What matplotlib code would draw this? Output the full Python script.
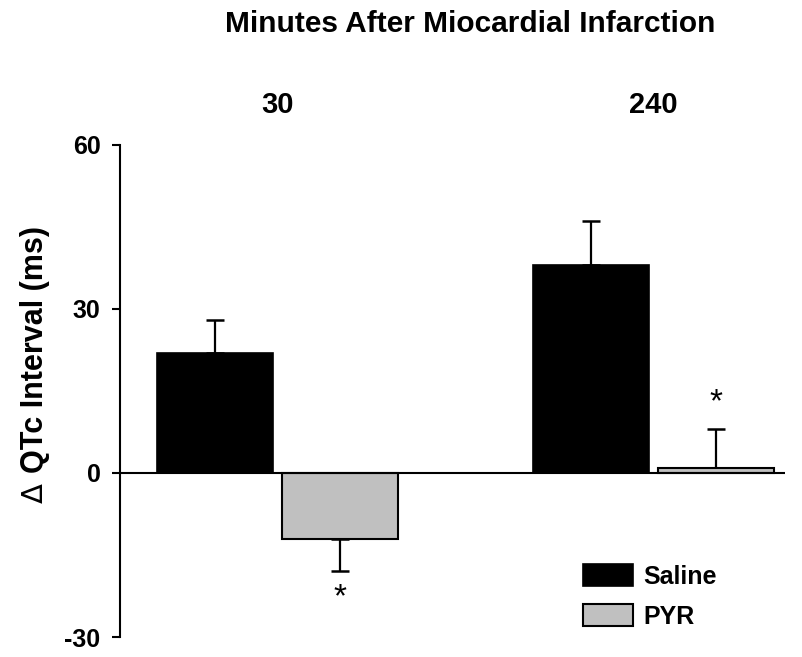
import numpy as np
import matplotlib
matplotlib.use('Agg')
import matplotlib.pyplot as plt
from matplotlib.patches import Patch
import matplotlib.transforms as mtransforms

# Cambio del QTc (ms) a los 30 y 240 minutos tras el infarto
tiempos = ['30', '240']
saline_media = [22, 38]
saline_ee = [6, 8]
pyr_media = [-12, 1]
pyr_ee = [6, 7]

plt.rcParams['font.family'] = ['Liberation Sans', 'DejaVu Sans']
plt.rcParams['font.weight'] = 'bold'
plt.rcParams['axes.unicode_minus'] = False

fig = plt.figure(figsize=(8.02, 6.57), dpi=100)
ax = fig.add_axes([0.1496, 0.0304, 0.8294, 0.749])

x = np.arange(len(tiempos))
ancho = 0.309
desp = 0.167

saline_media = np.array(saline_media)
pyr_media = np.array(pyr_media)

ax.bar(x - desp, saline_media, ancho, color='black', edgecolor='black', linewidth=1.2, zorder=3)
ax.bar(x + desp, pyr_media, ancho, color='#c0c0c0', edgecolor='black', linewidth=1.5, zorder=3)

# Barras de error solo hacia afuera de cada barra
def err_un_lado(media, ee):
    ee = np.array(ee)
    bajo = np.where(media < 0, ee, 0)
    alto = np.where(media < 0, 0, ee)
    return [bajo, alto]

ax.errorbar(x - desp, saline_media, yerr=err_un_lado(saline_media, saline_ee),
            fmt='none', ecolor='black', elinewidth=1.6, capsize=6.5, capthick=1.8, zorder=2)
ax.errorbar(x + desp, pyr_media, yerr=err_un_lado(pyr_media, pyr_ee),
            fmt='none', ecolor='black', elinewidth=1.6, capsize=6.5, capthick=1.8, zorder=2)

# Asteriscos de significancia para PYR
for xi, m, e in zip(x + desp, pyr_media, pyr_ee):
    if m < 0:
        ax.annotate('*', (xi, m - e), xytext=(0, -8), textcoords='offset points',
                    ha='center', va='top', fontsize=24, fontweight='normal')
    else:
        ax.annotate('*', (xi, m + e), xytext=(0, 8), textcoords='offset points',
                    ha='center', va='bottom', fontsize=24, fontweight='normal')

ax.axhline(0, color='black', linewidth=1.5, zorder=4)

ax.set_xlim(-0.420, 1.351)
ax.set_ylim(-30, 60)
ax.set_yticks([-30, 0, 30, 60])
ax.set_xticks([])
ax.tick_params(axis='y', labelsize=18, length=6, width=1.5, pad=8)
for s in ['top', 'right', 'bottom']:
    ax.spines[s].set_visible(False)
ax.spines['left'].set_linewidth(1.5)

# Etiqueta del eje Y: la delta va en trazo fino, el resto en negrita
ax.set_ylabel('QTc Interval (ms)', fontsize=22, fontweight='bold', va='center')
ax.yaxis.set_label_coords(-0.128, (637 - 350) / 492)
ax.annotate('\u0394', xy=(0.5, 0), xycoords=ax.yaxis.label, xytext=(0, -7),
            textcoords='offset points', rotation=90, ha='center', va='top',
            fontsize=21, fontweight='normal', family='DejaVu Sans')

# Etiquetas de los tiempos encima de cada grupo
trans = mtransforms.blended_transform_factory(ax.transData, fig.transFigure)
for xi, t in zip(x, tiempos):
    ax.text(xi, 1 - 105 / 657, t, transform=trans, ha='center', va='center', fontsize=21)

fig.text(0.586, 0.963, 'Minutes After Miocardial Infarction', ha='center', va='center', fontsize=21.5)

manejadores = [Patch(facecolor='black', edgecolor='black', linewidth=1.2, label='Saline'),
               Patch(facecolor='#c0c0c0', edgecolor='black', linewidth=1.5, label='PYR')]
ax.legend(handles=manejadores, loc='upper left', bbox_to_anchor=(583 / 802, 1 - 564 / 657),
          bbox_transform=fig.transFigure, frameon=False, fontsize=18, borderpad=0,
          borderaxespad=0, handlelength=2.0, handleheight=1.0, handletextpad=0.4,
          labelspacing=0.6)

fig.savefig('out.png', dpi=100)
